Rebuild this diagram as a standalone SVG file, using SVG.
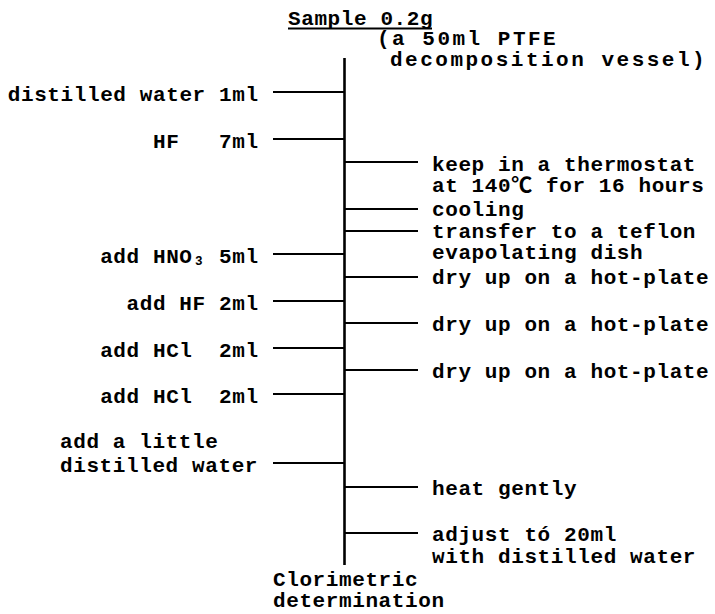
<svg xmlns="http://www.w3.org/2000/svg" width="715" height="614" viewBox="0 0 715 614">
<style>
.t{font-family:"Liberation Mono","DejaVu Sans Mono","Noto Sans CJK JP",monospace;font-size:21px;font-weight:bold;letter-spacing:0.6px;fill:#000}
.w{letter-spacing:2.5px}
.e{text-anchor:end}
.c{stroke:#000;stroke-width:2;fill:none}
.m{stroke:#000;stroke-width:2.6;fill:none}
</style>
<rect width="715" height="614" fill="#fff"/>
<g id="connectors">
<line class="m" x1="344.5" y1="58" x2="344.5" y2="565"/>
<line class="c" x1="273" y1="92" x2="344" y2="92"/>
<line class="c" x1="273" y1="139" x2="344" y2="139"/>
<line class="c" x1="273" y1="254" x2="344" y2="254"/>
<line class="c" x1="273" y1="301" x2="344" y2="301"/>
<line class="c" x1="273" y1="348" x2="344" y2="348"/>
<line class="c" x1="273" y1="394" x2="344" y2="394"/>
<line class="c" x1="273" y1="463" x2="344" y2="463"/>
<line class="c" x1="345" y1="162" x2="418" y2="162"/>
<line class="c" x1="345" y1="209" x2="418" y2="209"/>
<line class="c" x1="345" y1="231" x2="418" y2="231"/>
<line class="c" x1="345" y1="277" x2="418" y2="277"/>
<line class="c" x1="345" y1="323" x2="418" y2="323"/>
<line class="c" x1="345" y1="370" x2="418" y2="370"/>
<line class="c" x1="345" y1="487" x2="418" y2="487"/>
<line class="c" x1="345" y1="533" x2="418" y2="533"/>
</g>
<g id="sample">
<text class="t" x="288" y="25">Sample 0.2g</text>
<line class="c" x1="288" y1="28.5" x2="432" y2="28.5"/>
<text class="t w" x="377" y="45">(a 50ml PTFE</text>
<text class="t w" x="390" y="66">decomposition vessel)</text>
</g>
<g id="l1"><text class="t e" x="258.6" y="101">distilled water 1ml</text></g>
<g id="l2"><text class="t e" x="258.6" y="148" xml:space="preserve">HF   7ml</text></g>
<g id="l3"><text class="t e" x="258.6" y="263">add HNO₃ 5ml</text></g>
<g id="l4"><text class="t e" x="258.6" y="310">add HF 2ml</text></g>
<g id="l5"><text class="t e" x="258.6" y="357" xml:space="preserve">add HCl  2ml</text></g>
<g id="l6"><text class="t e" x="258.6" y="403" xml:space="preserve">add HCl  2ml</text></g>
<g id="l7"><text class="t" x="60" y="448">add a little</text><text class="t" x="60" y="472">distilled water</text></g>
<g id="r1"><text class="t" x="432" y="170.5">keep in a thermostat</text><text class="t" x="432" y="191.5">at 140℃ for 16 hours</text></g>
<g id="r2"><text class="t" x="432" y="216">cooling</text></g>
<g id="r3"><text class="t" x="432" y="238">transfer to a teflon</text><text class="t" x="432" y="259">evapolating dish</text></g>
<g id="r4"><text class="t" x="432" y="284">dry up on a hot-plate</text></g>
<g id="r5"><text class="t" x="432" y="331">dry up on a hot-plate</text></g>
<g id="r6"><text class="t" x="432" y="378">dry up on a hot-plate</text></g>
<g id="r7"><text class="t" x="432" y="495">heat gently</text></g>
<g id="r8"><text class="t" x="432" y="541">adjust tó 20ml</text><text class="t" x="432" y="563">with distilled water</text></g>
<g id="result"><text class="t" x="273" y="586">Clorimetric</text><text class="t" x="273" y="607">determination</text></g>
</svg>
